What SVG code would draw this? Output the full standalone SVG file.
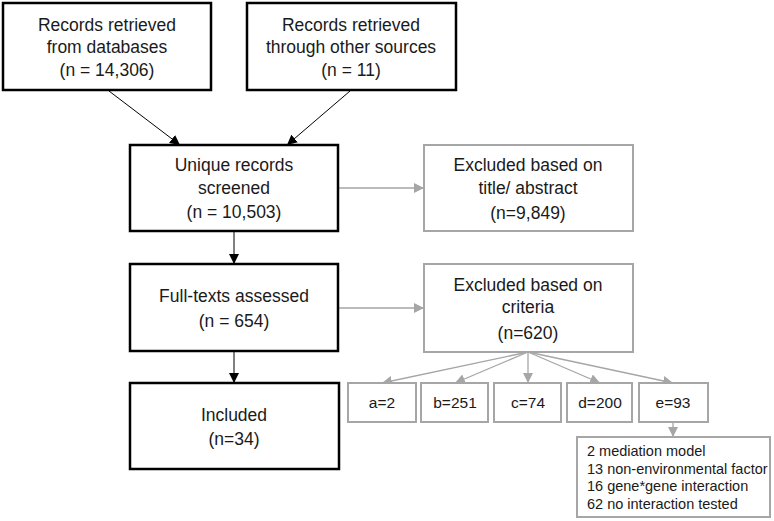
<svg xmlns="http://www.w3.org/2000/svg" width="774" height="521" viewBox="0 0 774 521">
<style>
  .bk { fill: #fff; stroke: #000; stroke-width: 2.5; }
  .gr { fill: #fff; stroke: #a6a6a6; stroke-width: 2; }
  text { font-family: "Liberation Sans", Arial, sans-serif; font-size: 17.5px; fill: #1a1a1a; text-anchor: middle; }
  .s { font-size: 15.5px; }
  .sm { font-size: 14.5px; text-anchor: start; }
  .lk { stroke: #000; stroke-width: 1; fill: none; marker-end: url(#ab); }
  .lg { stroke: #a6a6a6; stroke-width: 1.3; fill: none; marker-end: url(#ag); }
</style>
<defs>
  <marker id="ab" viewBox="0 0 10 10" refX="10" refY="5" markerWidth="10" markerHeight="10" markerUnits="userSpaceOnUse" orient="auto">
    <path d="M0,0 L10,5 L0,10 z" fill="#000"/>
  </marker>
  <marker id="ag" viewBox="0 0 10 10" refX="10" refY="5" markerWidth="10" markerHeight="10" markerUnits="userSpaceOnUse" orient="auto">
    <path d="M0,0 L10,5 L0,10 z" fill="#a6a6a6"/>
  </marker>
</defs>
<rect width="774" height="521" fill="#fff"/>
<g id="connectors">
  <line class="lk" x1="109" y1="91" x2="180" y2="145"/>
  <line class="lk" x1="350" y1="91" x2="287" y2="145"/>
  <line class="lk" x1="234" y1="231" x2="234" y2="264"/>
  <line class="lk" x1="234" y1="351" x2="234" y2="383"/>
  <line class="lg" x1="338" y1="188" x2="424" y2="188"/>
  <line class="lg" x1="338" y1="308" x2="424" y2="308"/>
  <line class="lg" x1="528" y1="352" x2="382" y2="383"/>
  <line class="lg" x1="528" y1="352" x2="455" y2="383"/>
  <line class="lg" x1="528" y1="352" x2="528" y2="383"/>
  <line class="lg" x1="528" y1="352" x2="600" y2="383"/>
  <line class="lg" x1="528" y1="352" x2="673" y2="383"/>
  <line class="lg" x1="673" y1="422" x2="673" y2="437"/>
</g>
<g id="n1">
  <rect class="bk" x="3" y="3" width="208" height="87"/>
  <text x="107" y="31">Records retrieved</text>
  <text x="107" y="53">from databases</text>
  <text x="107" y="76">(n = 14,306)</text>
</g>
<g id="n2">
  <rect class="bk" x="247" y="3" width="209" height="87"/>
  <text x="351" y="31">Records retrieved</text>
  <text x="351" y="53">through other sources</text>
  <text x="351" y="76">(n = 11)</text>
</g>
<g id="n3">
  <rect class="bk" x="130" y="145" width="208" height="86"/>
  <text x="234" y="171">Unique records</text>
  <text x="234" y="194">screened</text>
  <text x="234" y="218">(n = 10,503)</text>
</g>
<g id="n4">
  <rect class="bk" x="130" y="264" width="208" height="87"/>
  <text x="234" y="302">Full-texts assessed</text>
  <text x="234" y="327">(n = 654)</text>
</g>
<g id="n5">
  <rect class="bk" x="130" y="383" width="209" height="86"/>
  <text x="234" y="421">Included</text>
  <text x="234" y="445">(n=34)</text>
</g>
<g id="x1">
  <rect class="gr" x="424" y="145" width="209" height="86"/>
  <text x="528" y="171">Excluded based on</text>
  <text x="528" y="194">title/ abstract</text>
  <text x="528" y="219">(n=9,849)</text>
</g>
<g id="x2">
  <rect class="gr" x="424" y="264" width="209" height="88"/>
  <text x="528" y="291">Excluded based on</text>
  <text x="528" y="313">criteria</text>
  <text x="528" y="339">(n=620)</text>
</g>
<g id="a">
  <rect class="gr" x="348" y="383" width="68" height="39"/>
  <text class="s" x="382" y="408">a=2</text>
</g>
<g id="b">
  <rect class="gr" x="421" y="383" width="67" height="39"/>
  <text class="s" x="455" y="408">b=251</text>
</g>
<g id="c">
  <rect class="gr" x="494" y="383" width="67" height="39"/>
  <text class="s" x="528" y="408">c=74</text>
</g>
<g id="d">
  <rect class="gr" x="567" y="383" width="65" height="39"/>
  <text class="s" x="600" y="408">d=200</text>
</g>
<g id="e">
  <rect class="gr" x="639" y="383" width="69" height="39"/>
  <text class="s" x="673" y="408">e=93</text>
</g>
<g id="edetail">
  <rect class="gr" x="577" y="437" width="193" height="80"/>
  <text class="sm" x="587" y="456">2 mediation model</text>
  <text class="sm" x="587" y="474">13 non-environmental factor</text>
  <text class="sm" x="587" y="491">16 gene*gene interaction</text>
  <text class="sm" x="587" y="509">62 no interaction tested</text>
</g>
</svg>
